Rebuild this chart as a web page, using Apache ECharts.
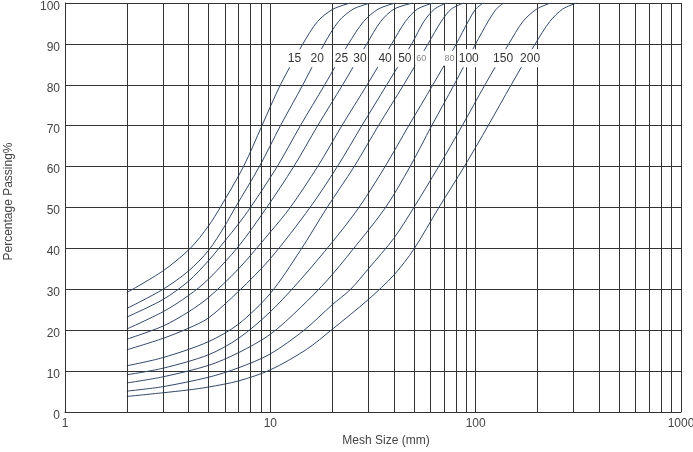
<!DOCTYPE html>
<html>
<head>
<meta charset="utf-8">
<script src="https://cdn.jsdelivr.net/npm/echarts@6/dist/echarts.min.js"></script>
<style>
  html, body { margin: 0; padding: 0; background: #fff; }
  #chart { width: 693px; height: 452px; }
</style>
</head>
<body>
<div id="chart"></div>
<script>
// curve names (max aggregate size, mm)
const curveNames = ['15', '20', '25', '30', '40', '50', '60', '80', '100', '150', '200'];

// [mesh size mm, percentage passing]
const c15 = [[2, 29.2], [3, 34.5], [4.07, 40], [5, 45.5], [5.7, 50], [7.4, 60], [9.1, 70], [11.2, 80], [14.4, 90], [17, 95.5], [20.2, 98.5], [24.6, 100]];
const c20 = [[2, 25.3], [3, 30], [4, 34.5], [5, 39.5], [6, 45.5], [6.75, 50], [8.84, 60], [11.2, 70], [14.4, 80], [18.3, 90], [21.5, 95.5], [25.3, 98.5], [30.7, 100]];
const c25 = [[2, 23.2], [3, 27.5], [4, 32], [5, 37], [6, 41.8], [7, 46], [8, 50], [10.8, 60], [14, 70], [18.4, 80], [24, 90], [28.5, 95.5], [33.5, 98.5], [40.7, 100]];
const c30 = [[2, 20.3], [3, 24.5], [4, 28.5], [5, 32.5], [7, 40.5], [9.6, 50], [13, 60], [17, 70], [22.5, 80], [29.5, 90], [34.5, 95.5], [40, 98.5], [49.3, 100]];
const c40 = [[2, 17.8], [3, 21], [4, 24.5], [5, 28], [7, 35], [10, 44], [12.5, 50], [17, 60], [22.3, 70], [29.6, 80], [39, 90], [45.5, 95.5], [52, 98.5], [62, 100]];
const c50 = [[2, 15.2], [3, 18], [4, 20.5], [5, 23], [7, 29.5], [10, 37.5], [15.6, 50], [21.2, 60], [27.9, 70], [36.9, 80], [48.8, 90], [56, 95.5], [63, 98.5], [72, 100]];
const c60 = [[2, 11.3], [3, 13.3], [5, 17.2], [7, 21.5], [10, 29], [14, 39.5], [18.9, 50], [25.6, 60], [33.6, 70], [44.6, 80], [58.6, 90], [68, 95.5], [76, 98.5], [87.5, 100]];
const c80 = [[2, 9.1], [3, 10.7], [5, 14], [7, 18], [10, 24.5], [14, 32.3], [20, 41.5], [27, 50], [36.2, 60], [47.2, 70], [61.9, 80], [80.5, 90], [92, 95.5], [100, 98.5], [109, 100]];
const c100 = [[2, 7.1], [3, 8.6], [5, 11.4], [7, 14.5], [10, 19], [14, 25.5], [19, 32.3], [25, 39.5], [36.4, 50], [47.9, 60], [61.1, 70], [78.5, 80], [100, 90], [115, 95.5], [126, 98.5], [137, 100]];
const c150 = [[2, 5.1], [3, 6.2], [5, 8.5], [7, 10.8], [10, 14.2], [14.6, 20], [20, 26.2], [24.6, 30], [30, 35], [40, 42.5], [50, 50], [66, 60], [86, 70], [111, 80], [145, 90], [170, 95.5], [198, 98.5], [232, 100]];
const c200 = [[2, 3.8], [3, 4.7], [4, 5.4], [5, 6.1], [7, 7.6], [10, 10.3], [15, 15.3], [20, 20.2], [30, 27.5], [40, 33.5], [50, 39.8], [66.2, 50], [88, 60], [115, 70], [149, 80], [195, 90], [230, 95.5], [265, 98.5], [310, 100]];

// where each curve's name sits (mesh size, %)
const labelX = [13.1, 16.9, 22.2, 27.3, 36.2, 45.2, 54.3, 74.6, 92.5, 136, 184];
const labelY = 86.5;

// log grid lines
const gridX = [2, 3, 4, 5, 6, 7, 8, 9, 10, 20, 30, 40, 50, 60, 70, 80, 90, 100, 200, 300, 400, 500, 600, 700, 800, 900, 1000];

const curves = [c15, c20, c25, c30, c40, c50, c60, c80, c100, c150, c200];

const chart = echarts.init(document.getElementById('chart'));

const curveSeries = curves.map((d, i) => {
  const small = curveNames[i] === '60' || curveNames[i] === '80';
  return {
    name: curveNames[i],
    type: 'line',
    data: d,
    smooth: 0.3,
    symbol: 'none',
    z: 3,
    lineStyle: { color: '#33486b', width: 1 },
    markPoint: {
      silent: true,
      symbol: 'rect',
      symbolSize: 0,
      data: [{ coord: [labelX[i], labelY] }],
      label: {
        show: true,
        position: 'inside',
        formatter: curveNames[i],
        color: small ? '#888' : '#333',
        fontSize: small ? 9 : 12,
        fontFamily: 'Liberation Sans',
        backgroundColor: '#fff',
        padding: [3, 1]
      }
    }
  };
});

const option = {
  animation: false,
  backgroundColor: '#fff',
  grid: { left: 65, right: 12, top: 3, bottom: 40, outerBoundsMode: 'none', containLabel: false },
  xAxis: {
    type: 'log',
    logBase: 10,
    min: 1,
    max: 1000,
    name: 'Mesh Size (mm)',
    nameLocation: 'middle',
    nameGap: 19,
    nameTextStyle: { color: '#444', fontSize: 12, fontFamily: 'Liberation Sans', padding: [0, 0, 0, 26] },
    axisLine: { show: true, lineStyle: { color: '#333', width: 1 } },
    axisTick: { show: false },
    axisLabel: {
      color: '#444', fontSize: 12, fontFamily: 'Liberation Sans', margin: 6,
      formatter: v => String(v)
    },
    splitLine: { show: false }
  },
  yAxis: {
    type: 'value',
    min: 0,
    max: 100,
    interval: 10,
    name: 'Percentage Passing%',
    nameLocation: 'middle',
    nameGap: 50,
    nameTextStyle: { color: '#444', fontSize: 12, fontFamily: 'Liberation Sans', padding: [0, 0, 0, 12] },
    axisLine: { show: true, lineStyle: { color: '#333', width: 1 } },
    axisTick: { show: false },
    axisLabel: {
      color: '#444', fontSize: 12, fontFamily: 'Liberation Sans', margin: 5,
      verticalAlign: 'top', lineHeight: 7
    },
    splitLine: { show: true, lineStyle: { color: '#333', width: 1 } }
  },
  series: [
    {
      name: 'grid',
      type: 'line',
      data: [[1, 0]],
      symbol: 'none',
      z: 1,
      lineStyle: { opacity: 0 },
      markLine: {
        silent: true,
        symbol: ['none', 'none'],
        label: { show: false },
        lineStyle: { color: '#333', width: 1, type: 'solid' },
        data: gridX.map(v => ({ xAxis: v }))
      }
    }
  ].concat(curveSeries)
};

chart.setOption(option);
</script>
</body>
</html>
